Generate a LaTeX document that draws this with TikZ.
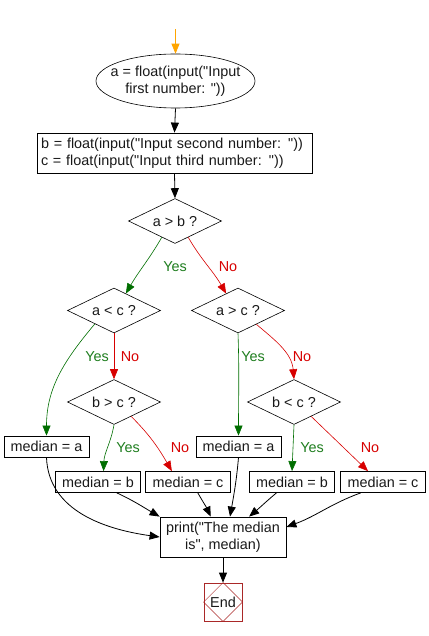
\documentclass[tikz,border=0pt]{standalone}
\usepackage{fontspec}
\newfontfamily\lsans{Liberation Sans}
\usetikzlibrary{shapes.geometric,arrows.meta}
\definecolor{ygreen}{RGB}{0,110,0}
\definecolor{ylab}{RGB}{30,125,30}
\definecolor{nred}{RGB}{215,0,0}
\definecolor{endred}{RGB}{170,40,40}
\definecolor{startor}{RGB}{255,165,0}
\begin{document}
\begin{tikzpicture}[x=1pt,y=-1pt,
  font=\lsans\fontsize{14.4}{17}\selectfont,
  every node/.style={text=black!90},
  arr/.style={draw=black, line width=0.8pt, -{Triangle[length=10pt,width=8pt]}},
  yesarr/.style={draw=ygreen, line width=0.6pt, -{Triangle[length=10pt,width=8pt,fill=ygreen]}},
  noarr/.style={draw=nred, line width=0.6pt, -{Triangle[length=10pt,width=8pt,fill=nred]}},
  startarr/.style={draw=startor, line width=0.8pt, -{Triangle[length=10pt,width=8pt,fill=startor]}},
  decbox/.style={diamond, draw, line width=0.6pt, aspect=2, minimum width=93pt, minimum height=45pt, inner sep=0pt},
  medbox/.style={rectangle, draw, line width=0.8pt, minimum width=85pt, minimum height=21pt, inner sep=0pt},
  yeslab/.style={text=ylab},
  nolab/.style={text=nred},
]
\useasboundingbox (0,0) rectangle (428,636);

\coordinate (s) at (175.5,29);
\node (e1) [ellipse, draw, line width=0.6pt, minimum width=159pt, minimum height=54pt, inner xsep=-20pt, inner ysep=0pt, align=center] at (175.5,81) {a = float(input("Input\\first number: "))};
\node (b1) [rectangle, draw, line width=0.8pt, text width=267pt, align=left, inner xsep=4pt, inner ysep=0pt, minimum height=40pt] at (174.5,153) {b = float(input("Input second number: "))\\c = float(input("Input third number: "))};
\node (d1) [decbox] at (175,221) {a > b ?};
\node (d2) [decbox] at (114,310.5) {a < c ?};
\node (d3) [decbox] at (238,310.5) {a > c ?};
\node (d4) [decbox] at (114,402) {b > c ?};
\node (d5) [decbox] at (294,402) {b < c ?};
\node (ma1) [medbox] at (46.5,446.5) {median = a};
\node (ma2) [medbox] at (238.5,446.5) {median = a};
\node (mb1) [medbox] at (98,482) {median = b};
\node (mc1) [medbox] at (188,482) {median = c};
\node (mb2) [medbox] at (292,482) {median = b};
\node (mc2) [medbox] at (383,482) {median = c};
\node (p) [rectangle, draw, line width=0.8pt, minimum width=126pt, minimum height=40pt, inner sep=0pt, align=center] at (223,537) {print("The median\\is", median)};
\node (end) [rectangle, draw=endred, line width=0.8pt, minimum width=38pt, minimum height=38pt, inner sep=0pt] at (223,602) {End};
\draw[endred, line width=0.5pt] (end.north) -- (end.east) -- (end.south) -- (end.west) -- cycle;

% labels
\node (l1y) [yeslab] at (175,267) {Yes};
\node (l1n) [nolab] at (228,267) {No};
\node (l2y) [yeslab] at (97,357) {Yes};
\node (l2n) [nolab] at (130,357) {No};
\node (l3y) [yeslab] at (253,357) {Yes};
\node (l3n) [nolab] at (302,357) {No};
\node (l4y) [yeslab] at (128,448) {Yes};
\node (l4n) [nolab] at (180,448) {No};
\node (l5y) [yeslab] at (312,448) {Yes};
\node (l5n) [nolab] at (370,448) {No};

% connectors
\draw[startarr] (s) -- (e1.north);
\draw[arr] (e1.south) -- (b1.north);
\draw[arr] (b1.north |- b1.south) -- (d1.north);
\draw[yesarr] (d1.231) to[out=-120,in=60] (d2.55);
\draw[noarr] (d1.309) to[out=-60,in=120] (d3.125);
\draw[yesarr] (d2.215) to[out=-130,in=90] (ma1.north);
\draw[noarr] (d2.south) -- (d4.north);
\draw[yesarr] (d3.south) to[out=-88,in=90] (ma2.north);
\draw[noarr] (d3.323) to[out=-40,in=95] (d5.north);
\draw[yesarr] (d4.south) to[out=-100,in=88] (mb1.63);
\draw[noarr] (d4.320) to[out=-45,in=120] (mc1.146);
\draw[yesarr] (d5.south) -- (mb2.north);
\draw[noarr] (d5.320) -- (mc2.144);
\draw[arr] (ma1.south) to[out=-88,in=172] (p.west);
\draw[arr] (mb1.-30) to[out=-25,in=150] (p.north west);
\draw[arr] (mc1.-48) to[out=-60,in=115] (p.121);
\draw[arr] (ma2.south) to[out=-95,in=80] (p.71);
\draw[arr] (mb2.215) to[out=-140,in=40] (p.38);
\draw[arr] (mc2.206) to[out=-160,in=20] (p.9);
\draw[arr] (p.south) -- (end.north);
\end{tikzpicture}
\end{document}
